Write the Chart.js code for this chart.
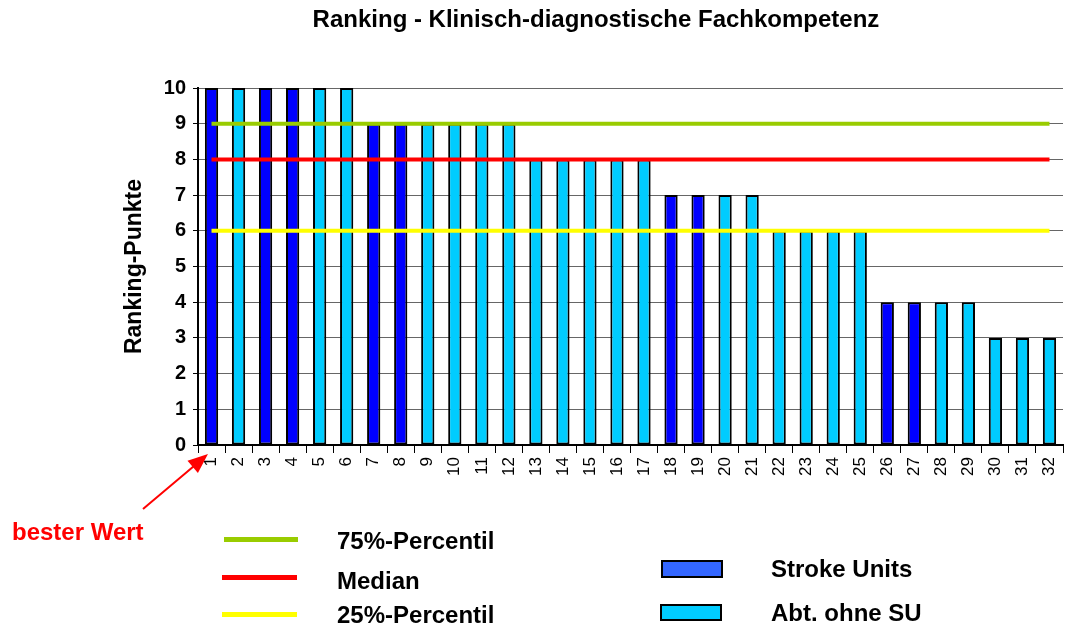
<!DOCTYPE html>
<html>
<head>
<meta charset="utf-8">
<script src="https://cdn.jsdelivr.net/npm/chart.js@4.4.1/dist/chart.umd.min.js"></script>
<style>
  html, body { margin: 0; padding: 0; background: #fff; }
  #wrap { position: relative; width: 1076px; height: 626px; overflow: hidden; font-family: 'Liberation Sans', Arial, sans-serif; }
  #wrap canvas { position: absolute; left: 0; top: 0; }
  .t { position: absolute; white-space: nowrap; font-weight: bold; font-size: 24px; line-height: 1; color: #000; }
  .sw { position: absolute; }
  svg { position: absolute; left: 0; top: 0; pointer-events: none; }
</style>
</head>
<body>
<div id="wrap">
  <canvas id="c" width="1076" height="626"></canvas>
  <div class="t" style="left:596px; top:7px; transform:translateX(-50%);">Ranking - Klinisch-diagnostische Fachkompetenz</div>

  <div class="sw" style="left:224px; top:537px; width:74px; height:5px; background:#99CC00;"></div>
  <div class="sw" style="left:222px; top:575px; width:75px; height:5px; background:#FF0000;"></div>
  <div class="sw" style="left:222px; top:612px; width:75px; height:5px; background:#FFFF00;"></div>
  <div class="t" style="left:337px; top:529px;">75%-Percentil</div>
  <div class="t" style="left:337px; top:569px;">Median</div>
  <div class="t" style="left:337px; top:603px;">25%-Percentil</div>

  <div class="sw" style="left:661px; top:560px; width:58px; height:14px; background:#3366FF; border:2px solid #000;"></div>
  <div class="sw" style="left:660px; top:604px; width:58px; height:13px; background:#00CCFF; border:2px solid #000;"></div>
  <div class="t" style="left:771px; top:557px;">Stroke Units</div>
  <div class="t" style="left:771px; top:601px;">Abt. ohne SU</div>

  <div class="t" style="left:12px; top:520px; color:#FF0000;">bester Wert</div>
  <svg width="1076" height="626">
    <line x1="143" y1="509" x2="194" y2="466" stroke="#FF0000" stroke-width="2"/>
    <polygon points="208,454 187.5,460.8 197.9,473" fill="#FF0000"/>
  </svg>
</div>
<script>
// ---- data ----
const categories = ['1','2','3','4','5','6','7','8','9','10','11','12','13','14','15','16',
                    '17','18','19','20','21','22','23','24','25','26','27','28','29','30','31','32'];
const rankingPoints = [10,10,10,10,10,10, 9,9,9,9,9,9, 8,8,8,8,8, 7,7,7,7, 6,6,6,6, 4,4,4,4, 3,3,3];
// 'SU' = Stroke Units, 'A' = Abt. ohne SU
const unitType = ['SU','A','SU','SU','A','A','SU','SU','A','A','A','A','A','A','A','A',
                  'A','SU','SU','A','A','A','A','A','A','SU','SU','A','A','A','A','A'];
const percentile75 = 9;
const medianValue = 8;
const percentile25 = 6;
const yTicks = [0,1,2,3,4,5,6,7,8,9,10];

const FONT = "'Liberation Sans', Arial, sans-serif";
Chart.defaults.font.family = FONT;
Chart.defaults.color = '#000';

const suData = rankingPoints.map((v, i) => unitType[i] === 'SU' ? v : null);
const abtData = rankingPoints.map((v, i) => unitType[i] === 'A' ? v : null);
const first = categories[0], last = categories[categories.length - 1];
const hLine = (label, value, color) => ({
  type: 'line', label, order: 0,
  data: [{x: first, y: value}, {x: last, y: value}],
  borderColor: color, backgroundColor: color, borderWidth: 4,
  pointRadius: 0, fill: false, tension: 0
});

new Chart(document.getElementById('c'), {
  type: 'bar',
  data: {
    labels: categories,
    datasets: [
      { label: 'Stroke Units', data: suData, backgroundColor: '#0000FF', borderColor: '#000',
        borderWidth: 2, borderSkipped: false, order: 1 },
      { label: 'Abt. ohne SU', data: abtData, backgroundColor: '#00CCFF', borderColor: '#000',
        borderWidth: 2, borderSkipped: false, order: 1 },
      hLine('75%-Percentil', percentile75, '#99CC00'),
      hLine('Median', medianValue, '#FF0000'),
      hLine('25%-Percentil', percentile25, '#FFFF00')
    ]
  },
  options: {
    responsive: false,
    animation: false,
    devicePixelRatio: 1,
    skipNull: true,
    datasets: { bar: { barPercentage: 0.49, categoryPercentage: 1.0, skipNull: true } },
    layout: { padding: { top: 88, right: 13, bottom: 0, left: 0 } },
    plugins: { legend: { display: false }, title: { display: false }, tooltip: { enabled: false } },
    scales: {
      x: {
        type: 'category',
        grid: { display: true, drawOnChartArea: false, drawTicks: true, tickLength: 8,
                color: '#000', tickColor: '#000', offset: true },
        border: { display: true, color: '#000', width: 2 },
        ticks: { autoSkip: false, minRotation: 90, maxRotation: 90, padding: 4,
                 font: { size: 17, family: FONT } },
        afterFit: (s) => { s.height = 181; }
      },
      y: {
        min: 0, max: 10,
        afterBuildTicks: (s) => { s.ticks = yTicks.map(v => ({ value: v })); },
        grid: { color: '#666666', lineWidth: 1, tickLength: 5, tickColor: '#000' },
        border: { display: true, color: '#000', width: 2 },
        ticks: { padding: 7, font: { size: 20, weight: 'bold', family: FONT } },
        title: { display: true, text: 'Ranking-Punkte', font: { size: 23, weight: 'bold', family: FONT },
                 padding: { top: 121, bottom: 0 } },
        afterFit: (s) => { s.width = 198; }
      }
    }
  }
});
</script>
</body>
</html>
